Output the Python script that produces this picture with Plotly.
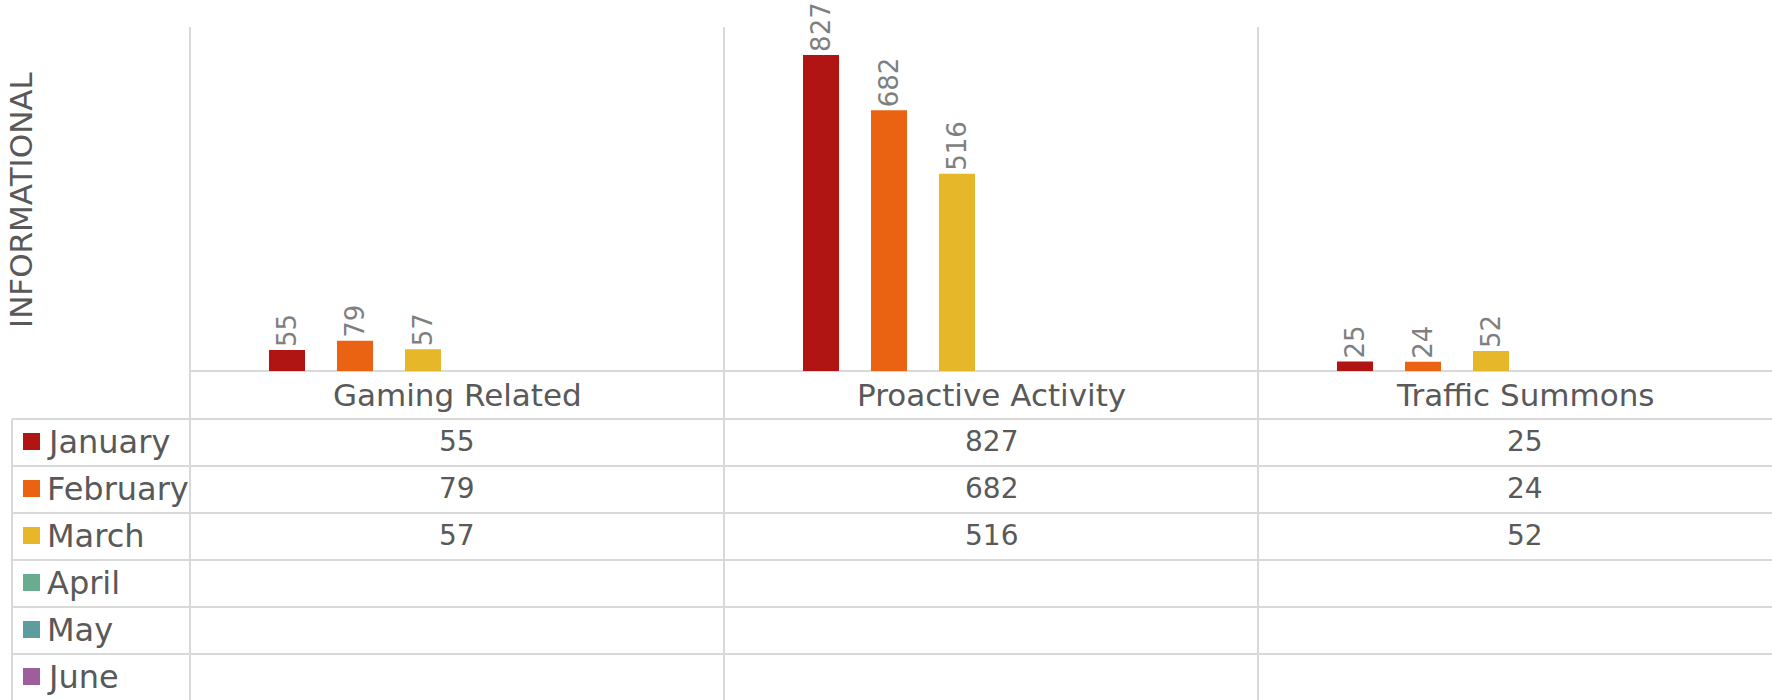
import plotly.graph_objects as go

categories = ["Gaming Related", "Proactive Activity", "Traffic Summons"]
months = ["January", "February", "March", "April", "May", "June"]
january = [55, 827, 25]
february = [79, 682, 24]
march = [57, 516, 52]
april = [None, None, None]
may = [None, None, None]
june = [None, None, None]
series = [january, february, march, april, may, june]
colors = ["#B01513", "#EA6312", "#E6B729", "#6AAC90", "#5F9C9D", "#9E5E9B"]
axis_title = "INFORMATIONAL"

FONT = "DejaVu Sans"
TEXT = "#595959"
GRID = "#D9D9D9"

W, H = 1772, 700
L, T, B = 190, 27, 371  # plot area in pixels
ROW_Y = [419, 466, 513, 560, 607, 654, 701]


def px(x):
    return (x - L) / (W - L)


def py(y):
    return (B - y) / (B - T)


fig = go.Figure()
for name, vals, col in zip(months, series, colors):
    fig.add_trace(go.Bar(
        x=categories, y=vals, name=name,
        marker=dict(color=col, line=dict(width=0)),
        texttemplate="%{y}", textposition="outside", textangle=-90,
        textfont=dict(family=FONT, size=26, color="#7F7F7F"),
        constraintext="none", cliponaxis=False,
    ))

shapes = []
# baseline + table row lines
shapes.append(dict(type="line", xref="paper", yref="paper",
                   x0=px(L), x1=1, y0=py(B), y1=py(B)))
for ry in ROW_Y[:-1]:
    shapes.append(dict(type="line", xref="paper", yref="paper",
                       x0=px(12), x1=1, y0=py(ry), y1=py(ry)))
# column separators
for cx in [L, L + 534, L + 1068]:
    shapes.append(dict(type="line", xref="paper", yref="paper",
                       x0=px(cx), x1=px(cx), y0=1, y1=py(H)))
shapes.append(dict(type="line", xref="paper", yref="paper",
                   x0=px(12), x1=px(12), y0=py(419), y1=py(H)))
for s in shapes:
    s["line"] = dict(color=GRID, width=2)
    s["layer"] = "below"

annotations = []
for i, c in enumerate(categories):
    annotations.append(dict(x=i, xref="x", y=py((B + ROW_Y[0]) / 2), yref="paper",
                            xanchor="center", yanchor="middle",
                            text=c, showarrow=False, font=dict(family=FONT, size=31, color=TEXT)))
for r, (name, vals, col) in enumerate(zip(months, series, colors)):
    yc = (ROW_Y[r] + ROW_Y[r + 1]) / 2 - 1
    shapes.append(dict(type="rect", xref="paper", yref="paper",
                       x0=px(23), x1=px(40), y0=py(yc - 8.5), y1=py(yc + 8.5),
                       fillcolor=col, line=dict(width=0)))
    annotations.append(dict(x=px(45), xref="paper", y=py(yc), yref="paper",
                            xanchor="left", yanchor="middle",
                            text=name, showarrow=False, font=dict(family=FONT, size=32, color=TEXT)))
    for i, v in enumerate(vals):
        if v is not None:
            annotations.append(dict(x=i, xref="x", y=py(yc), yref="paper",
                                    xanchor="center", yanchor="middle",
                                    text=str(v), showarrow=False,
                                    font=dict(family=FONT, size=28, color=TEXT)))
annotations.append(dict(x=px(21), xref="paper", y=py((T + B) / 2 + 1), yref="paper",
                        xanchor="center", yanchor="middle",
                        text=axis_title, textangle=-90, showarrow=False,
                        font=dict(family=FONT, size=31, color=TEXT)))

fig.update_layout(
    width=W, height=H,
    margin=dict(l=L, r=0, t=T, b=H - B),
    plot_bgcolor="white", paper_bgcolor="white",
    barmode="group", bargap=0.236, bargroupgap=0.47,
    showlegend=False,
    xaxis=dict(range=[-0.5, -0.5 + (W - L) / 534], showticklabels=False,
               showgrid=False, zeroline=False, showline=False),
    yaxis=dict(range=[0, 900], visible=False),
    shapes=shapes, annotations=annotations,
)

fig.write_html("out.html", config={"displayModeBar": False},
               post_script="document.body.style.margin='0';")
